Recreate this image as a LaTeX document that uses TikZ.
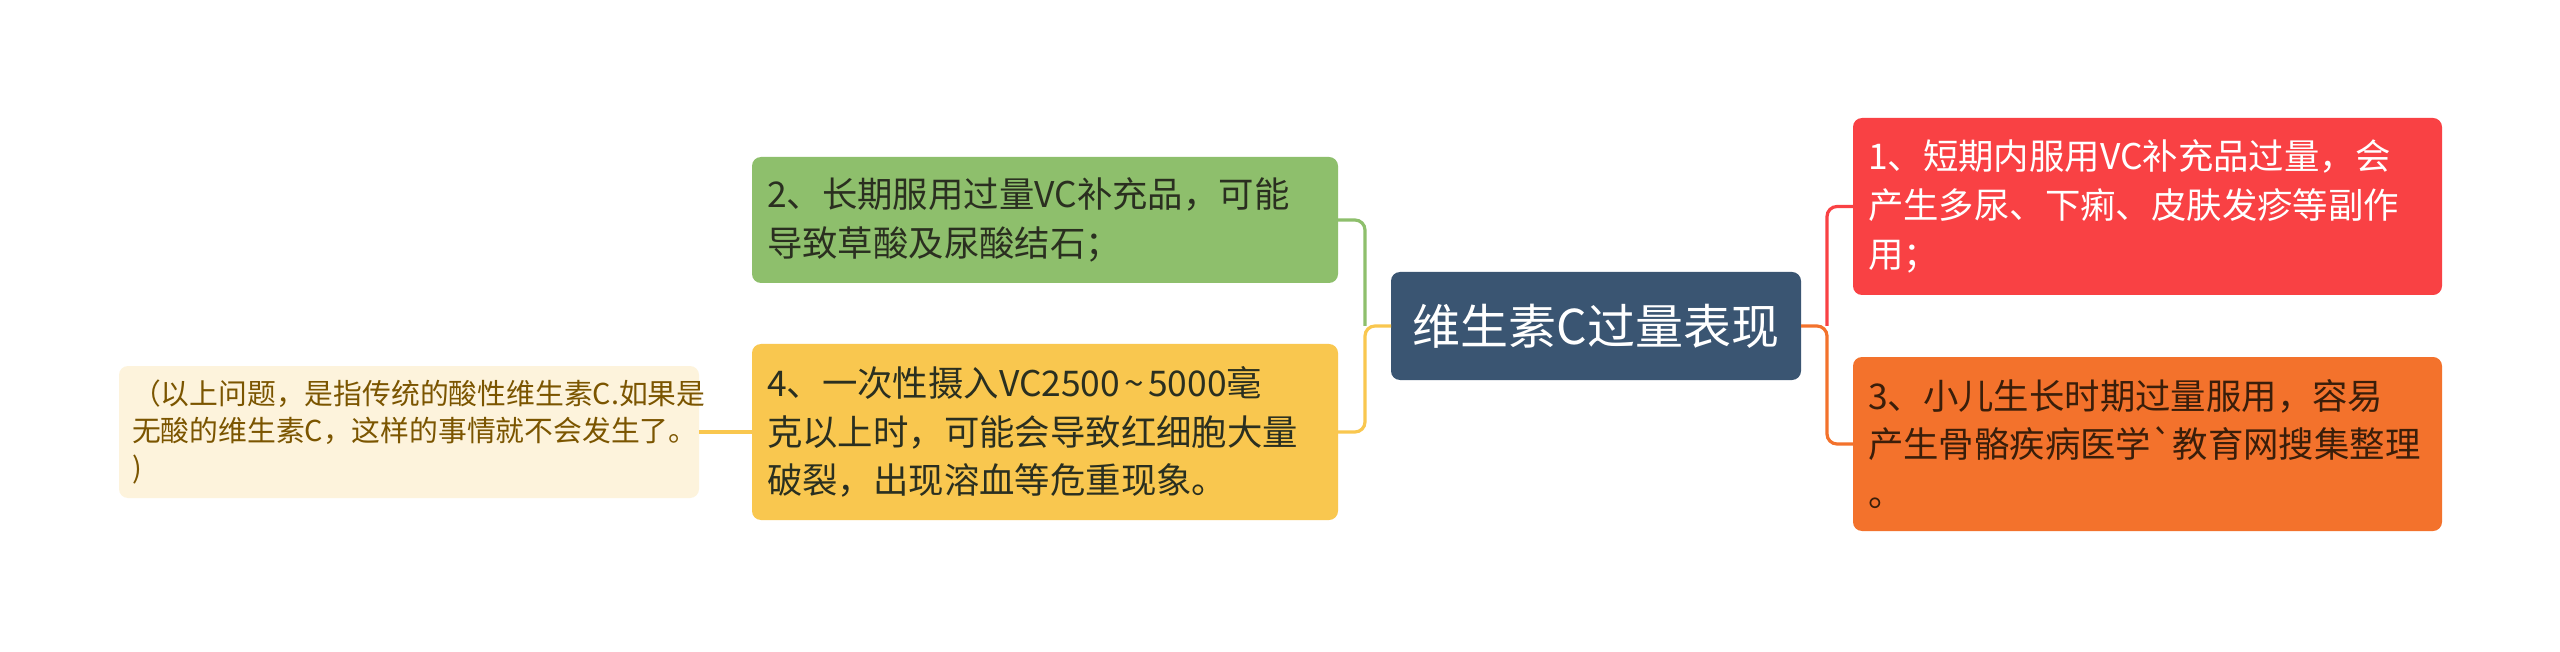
\documentclass[tikz,border=0pt]{standalone}
\usepackage{fontspec}
\newfontfamily\cjk{Noto Sans CJK SC}
\definecolor{cgreen}{HTML}{8EBF6C}
\definecolor{cyellow}{HTML}{F9C74F}
\definecolor{cred}{HTML}{F94144}
\definecolor{corange}{HTML}{F3722C}
\definecolor{cnavy}{HTML}{3A5572}
\definecolor{cnote}{HTML}{FDF3DC}
\definecolor{cnotetext}{HTML}{7B5500}
\definecolor{cdark}{HTML}{2A2F20}
\definecolor{cdarkbrown}{HTML}{3A1E0A}
\tikzset{
  topic/.style={rounded corners=4.5pt, outer sep=0pt, inner xsep=7.5pt, inner ysep=0pt,
    align=left, anchor=center, font=\cjk\fontsize{17.7pt}{24.3pt}\selectfont},
  notebox/.style={rounded corners=4.5pt, outer sep=0pt, inner xsep=6.5pt, inner ysep=0pt,
    align=left, anchor=center, fill=cnote, text=cnotetext,
    font=\cjk\fontsize{14.4pt}{18.5pt}\selectfont},
  rootbox/.style={rounded corners=4.5pt, outer sep=0pt, inner sep=0pt, align=center,
    fill=cnavy, text=white, minimum width=205pt, minimum height=54pt,
    font=\cjk\fontsize{24pt}{28pt}\selectfont},
  link/.style={line width=1.6pt, rounded corners=5pt}
}
\begin{document}
\begin{tikzpicture}[x=0.5pt, y=-0.5pt]
\useasboundingbox (0,0) rectangle (2560,652);
\fill[white] (0,0) rectangle (2560,652);

\node[rootbox] (root) at (1596,326) {维生素C过量表现};

\node[topic, fill=cgreen, text=cdark, text width=278pt, minimum height=63pt] (t2) at (1045,220)
  {2、长期服用过量VC补充品，可能\\导致草酸及尿酸结石；};
\node[topic, fill=cyellow, text=cdark, text width=278pt, minimum height=88pt] (t4) at (1045,432)
  {4、一次性摄入VC2500\hspace{0.12em}{\char"7E}\hspace{0.12em}5000毫\\克以上时，可能会导致红细胞大量\\破裂，出现溶血等危重现象。};
\node[topic, fill=cred, text=white, text width=279.5pt, minimum height=88.5pt] (t1) at (2147.5,206.5)
  {1、短期内服用VC补充品过量，会\\产生多尿、下痢、皮肤发疹等副作\\用；};
\node[topic, fill=corange, text=cdarkbrown, text width=279.5pt, minimum height=87pt] (t3) at (2147.5,444)
  {3、小儿生长时期过量服用，容易\\产生骨骼疾病医学`教育网搜集整理\\。};
\node[notebox, text width=277pt, minimum height=66pt] (note) at (409,432)
  {（以上问题，是指传统的酸性维生素C.如果是\\无酸的维生素C，这样的事情就不会发生了。\\)};

\coordinate (jl) at (1365,326);
\coordinate (jr) at (1827,326);

\draw[link, cgreen] (jl) |- (t2.east);
\draw[link, cyellow] (root.west) -- (jl) |- (t4.east);
\draw[link, cred] (jr) |- (t1.west);
\draw[link, corange] (root.east) -- (jr) |- (t3.west);
\draw[link, cyellow] (t4.west) -- (note.east);
\end{tikzpicture}
\end{document}
